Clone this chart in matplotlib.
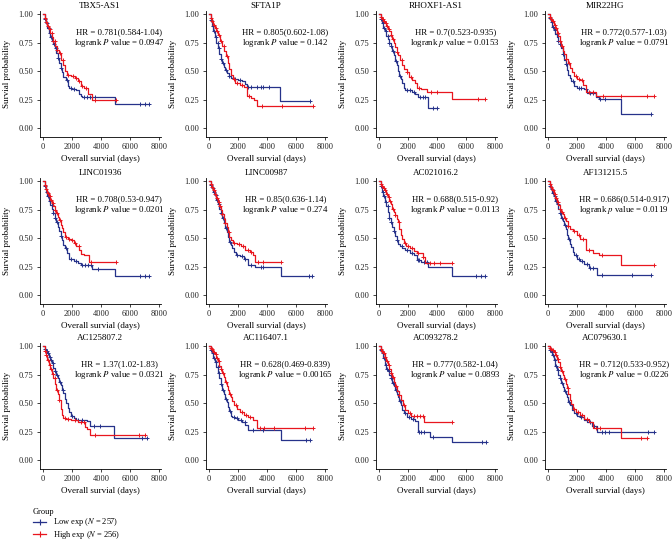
import numpy as np
import matplotlib
matplotlib.use("Agg")
import matplotlib.pyplot as plt
from matplotlib.lines import Line2D
from matplotlib.ticker import FormatStrFormatter

plt.rcParams['font.family'] = 'Liberation Serif'
plt.rcParams['mathtext.fontset'] = 'stix'

genes = ['TBX5-AS1', 'SFTA1P', 'RHOXF1-AS1', 'MIR22HG',
         'LINC01936', 'LINC00987', 'AC021016.2', 'AF131215.5',
         'AC125807.2', 'AC116407.1', 'AC093278.2', 'AC079630.1']
hr_text = ['0.781(0.584-1.04)', '0.805(0.602-1.08)', '0.7(0.523-0.935)', '0.772(0.577-1.03)',
           '0.708(0.53-0.947)', '0.85(0.636-1.14)', '0.688(0.515-0.92)', '0.686(0.514-0.917)',
           '1.37(1.02-1.83)', '0.628(0.469-0.839)', '0.777(0.582-1.04)', '0.712(0.533-0.952)']
p_letter = ['P', 'P', 'p', 'P', 'P', 'P', 'P', 'p', 'P', 'P', 'P', 'P']
p_values = ['0.0947', '0.142', '0.0153', '0.0791', '0.0201', '0.274',
            '0.0113', '0.0119', '0.0321', '0.00165', '0.0893', '0.0226']

# survival curves: (day, survival) steps; censor days (last one = end of follow-up)
tbx5_low = [(0,1.0),(100,0.96),(200,0.92),(300,0.88),(400,0.84),(500,0.80),(600,0.77),(700,0.74),(800,0.70),(900,0.66),(1000,0.62),(1100,0.57),(1200,0.53),(1300,0.49),(1400,0.45),(1550,0.42),(1700,0.37),(1800,0.35),(2000,0.34),(2300,0.33),(2500,0.30),(2600,0.28),(2700,0.27),(4950,0.21)]
tbx5_low_cens = [150,260,380,470,560,650,760,880,1050,1250,1650,1900,2150,2800,3000,3250,3600,6700,7000,7300]
tbx5_high = [(0,1.0),(100,0.97),(200,0.93),(300,0.90),(400,0.87),(500,0.84),(600,0.80),(700,0.77),(850,0.72),(950,0.69),(1100,0.66),(1250,0.60),(1400,0.55),(1500,0.50),(1650,0.47),(1900,0.46),(2200,0.44),(2400,0.41),(2600,0.37),(2800,0.35),(3100,0.30),(3350,0.245)]
tbx5_high_cens = [120,230,340,460,580,700,820,980,1180,1350,1750,2050,2300,2500,2700,2950,3600,5000]

sfta1p_low = [(0,1.0),(100,0.95),(200,0.90),(300,0.85),(400,0.80),(500,0.75),(600,0.70),(700,0.65),(800,0.61),(900,0.57),(1000,0.54),(1100,0.51),(1200,0.48),(1350,0.46),(1500,0.44),(1700,0.43),(2000,0.42),(2300,0.41),(2500,0.39),(2600,0.36),(4900,0.235)]
sfta1p_low_cens = [130,250,360,470,580,690,820,950,1150,1400,1800,2150,2700,2900,3300,3600,3750,4100,6950]
sfta1p_high = [(0,1.0),(100,0.97),(200,0.94),(300,0.91),(400,0.88),(500,0.85),(600,0.82),(750,0.77),(900,0.72),(1050,0.68),(1150,0.63),(1300,0.57),(1400,0.52),(1500,0.47),(1650,0.43),(1800,0.40),(2100,0.38),(2400,0.36),(2600,0.28),(2900,0.26),(3100,0.25),(3300,0.19)]
sfta1p_high_cens = [110,220,330,450,560,680,820,1000,1250,1700,1950,2250,2750,3650,5000,7200]

rhoxf1_low = [(0,1.0),(100,0.96),(200,0.92),(300,0.88),(400,0.85),(500,0.81),(600,0.78),(700,0.75),(800,0.72),(900,0.68),(1000,0.64),(1100,0.59),(1200,0.55),(1300,0.50),(1400,0.46),(1500,0.43),(1600,0.40),(1700,0.35),(1800,0.335),(2300,0.32),(2500,0.30),(2650,0.27),(3400,0.175)]
rhoxf1_low_cens = [140,250,370,480,590,700,830,960,1150,1450,1900,2100,2400,2800,3000,3200,3700,4000]
rhoxf1_high = [(0,1.0),(100,0.98),(200,0.96),(300,0.94),(400,0.92),(500,0.90),(600,0.87),(700,0.85),(800,0.82),(900,0.78),(1000,0.75),(1100,0.71),(1200,0.67),(1300,0.64),(1450,0.60),(1600,0.55),(1750,0.52),(1900,0.49),(2050,0.45),(2300,0.42),(2500,0.40),(2600,0.35),(2900,0.34),(3300,0.32),(5000,0.255)]
rhoxf1_high_cens = [120,240,350,460,570,690,820,980,1250,1550,1950,2200,2750,3600,4000,6800,7300]

mir22hg_low = [(0,1.0),(100,0.97),(200,0.93),(300,0.89),(400,0.86),(500,0.83),(600,0.80),(700,0.77),(800,0.74),(900,0.70),(1000,0.65),(1100,0.60),(1200,0.56),(1300,0.51),(1400,0.47),(1500,0.44),(1600,0.41),(1800,0.37),(2000,0.35),(2500,0.34),(2700,0.31),(3300,0.27),(3500,0.255),(5000,0.12)]
mir22hg_low_cens = [140,250,360,470,580,700,840,1000,1250,1700,2100,2300,2600,2900,3100,3600,3950,7100]
mir22hg_high = [(0,1.0),(100,0.98),(200,0.96),(300,0.94),(400,0.91),(500,0.88),(600,0.84),(700,0.81),(800,0.77),(900,0.72),(1000,0.68),(1100,0.65),(1200,0.61),(1350,0.57),(1500,0.53),(1650,0.49),(1800,0.46),(2000,0.43),(2200,0.42),(2400,0.38),(2600,0.32),(3300,0.28)]
mir22hg_high_cens = [120,230,340,450,570,690,830,990,1200,1450,1900,2150,2350,2800,3100,3800,5000,6800,7300]

linc01936_low = [(0,1.0),(100,0.96),(200,0.91),(300,0.87),(400,0.83),(500,0.79),(600,0.76),(700,0.72),(800,0.68),(900,0.64),(1000,0.60),(1100,0.56),(1200,0.52),(1300,0.48),(1400,0.44),(1500,0.41),(1650,0.37),(1800,0.32),(2100,0.30),(2400,0.28),(2600,0.26),(3400,0.23),(4950,0.17)]
linc01936_low_cens = [150,260,370,480,590,700,830,980,1200,1550,1950,2250,2700,2900,3100,3300,3800,6700,7000,7300]
linc01936_high = [(0,1.0),(100,0.97),(200,0.93),(300,0.90),(400,0.87),(500,0.84),(600,0.81),(700,0.78),(800,0.75),(900,0.72),(1000,0.69),(1100,0.66),(1200,0.62),(1300,0.59),(1400,0.55),(1500,0.51),(1700,0.49),(1900,0.48),(2100,0.46),(2300,0.43),(2500,0.40),(2600,0.36),(2800,0.35),(3150,0.29)]
linc01936_high_cens = [120,230,350,460,570,690,820,970,1150,1600,1800,2000,2200,2450,3300,5000]

linc00987_low = [(0,1.0),(100,0.97),(200,0.94),(300,0.91),(400,0.88),(500,0.84),(600,0.80),(700,0.76),(800,0.72),(900,0.68),(1000,0.63),(1100,0.59),(1200,0.55),(1300,0.51),(1400,0.47),(1500,0.44),(1600,0.41),(1700,0.38),(1850,0.35),(2100,0.34),(2400,0.32),(2650,0.265),(3200,0.25),(4950,0.17)]
linc00987_low_cens = [130,240,350,460,570,680,800,950,1150,1450,1950,2250,2500,2900,3600,3750,6900,7100]
linc00987_high = [(0,1.0),(100,0.98),(200,0.95),(300,0.92),(400,0.89),(500,0.85),(600,0.82),(700,0.78),(800,0.75),(900,0.71),(1000,0.67),(1100,0.63),(1200,0.60),(1300,0.55),(1400,0.51),(1500,0.48),(1650,0.46),(1900,0.45),(2200,0.43),(2500,0.40),(2800,0.38),(3000,0.35),(3150,0.29)]
linc00987_high_cens = [110,220,330,440,550,660,780,920,1100,1350,1750,2050,2350,2650,2900,3400,3700,4950]

ac021016_low = [(0,1.0),(100,0.96),(200,0.91),(300,0.87),(400,0.82),(500,0.78),(600,0.73),(700,0.68),(800,0.64),(900,0.60),(1000,0.56),(1100,0.52),(1200,0.48),(1300,0.45),(1450,0.43),(1600,0.41),(1800,0.40),(2100,0.37),(2400,0.35),(2600,0.31),(2900,0.29),(3400,0.245),(5000,0.17)]
ac021016_low_cens = [140,250,360,470,580,700,830,1000,1250,1550,1950,2250,2650,2750,3100,3300,6700,7000,7300]
ac021016_high = [(0,1.0),(100,0.98),(200,0.96),(300,0.94),(400,0.92),(500,0.89),(600,0.86),(700,0.83),(800,0.80),(900,0.76),(1000,0.73),(1100,0.70),(1200,0.67),(1300,0.64),(1400,0.58),(1500,0.53),(1600,0.49),(1700,0.46),(1850,0.43),(2100,0.41),(2400,0.39),(2600,0.37),(3000,0.33),(3200,0.28)]
ac021016_high_cens = [110,220,330,440,550,660,780,930,1100,1350,1800,2000,2300,2700,3000,3500,3800,4200,5000]

af131215_low = [(0,1.0),(100,0.96),(200,0.93),(300,0.90),(400,0.87),(500,0.83),(600,0.80),(700,0.76),(800,0.72),(900,0.68),(1000,0.65),(1100,0.62),(1200,0.58),(1300,0.53),(1400,0.49),(1500,0.45),(1600,0.42),(1700,0.38),(1800,0.35),(2000,0.32),(2200,0.30),(2500,0.27),(2800,0.24),(3400,0.175)]
af131215_low_cens = [130,240,350,460,570,680,800,950,1150,1450,1900,2100,2350,2650,2900,3100,3700,5800,7100]
af131215_high = [(0,1.0),(100,0.98),(200,0.95),(300,0.92),(400,0.89),(500,0.85),(600,0.82),(700,0.79),(800,0.76),(900,0.73),(1000,0.71),(1100,0.68),(1200,0.65),(1350,0.61),(1500,0.58),(1700,0.56),(2000,0.53),(2200,0.49),(2600,0.40),(3100,0.37),(3500,0.355),(5000,0.265)]
af131215_high_cens = [120,230,340,450,560,680,810,960,1150,1400,1800,2100,2400,2800,3700,7300]

ac125807_low = [(0,1.0),(100,0.98),(200,0.96),(300,0.94),(400,0.91),(500,0.88),(600,0.85),(700,0.81),(800,0.78),(900,0.75),(1000,0.72),(1100,0.69),(1200,0.66),(1300,0.62),(1400,0.59),(1500,0.54),(1600,0.50),(1700,0.46),(1800,0.42),(1900,0.39),(2100,0.37),(2300,0.355),(3000,0.34),(3250,0.30),(4900,0.195)]
ac125807_low_cens = [130,240,350,460,570,680,800,950,1150,1350,2000,2400,2700,3500,3900,6800,7200]
ac125807_high = [(0,1.0),(100,0.96),(200,0.92),(300,0.88),(400,0.84),(500,0.80),(600,0.76),(700,0.72),(800,0.67),(900,0.62),(1000,0.58),(1100,0.53),(1200,0.45),(1300,0.40),(1400,0.37),(1600,0.36),(1900,0.355),(2400,0.33),(2900,0.29),(3000,0.27),(3250,0.22)]
ac125807_high_cens = [120,230,340,450,560,670,790,940,1130,1500,1750,2200,2600,2800,3600,6600,7000]

ac116407_low = [(0,1.0),(100,0.97),(200,0.94),(300,0.90),(400,0.86),(500,0.82),(600,0.77),(700,0.72),(800,0.67),(900,0.62),(1000,0.58),(1100,0.54),(1200,0.51),(1300,0.47),(1400,0.43),(1500,0.39),(1600,0.38),(1800,0.37),(2000,0.35),(2300,0.33),(2500,0.31),(2650,0.265),(4950,0.175)]
ac116407_low_cens = [140,250,360,470,580,690,820,970,1150,1450,1700,1950,2200,2450,3000,3700,6700,6950]
ac116407_high = [(0,1.0),(100,0.99),(200,0.98),(300,0.95),(400,0.93),(500,0.90),(600,0.87),(700,0.83),(800,0.80),(900,0.77),(1000,0.73),(1100,0.69),(1200,0.65),(1300,0.62),(1400,0.58),(1500,0.55),(1600,0.52),(1750,0.48),(1900,0.45),(2100,0.42),(2400,0.40),(2700,0.38),(3000,0.35),(3300,0.285)]
ac116407_high_cens = [120,230,340,450,560,680,810,960,1150,1450,1850,2250,2550,2850,3500,3800,4500,6600,7200]

ac093278_low = [(0,1.0),(100,0.97),(200,0.94),(300,0.90),(400,0.84),(500,0.80),(600,0.78),(700,0.75),(800,0.72),(900,0.68),(1000,0.65),(1100,0.62),(1200,0.58),(1300,0.55),(1400,0.52),(1500,0.48),(1600,0.44),(1700,0.41),(1900,0.38),(2200,0.36),(2500,0.34),(2650,0.25),(3500,0.205),(5000,0.155)]
ac093278_low_cens = [130,240,350,460,570,680,810,960,1150,1450,1800,2050,2350,2750,2900,3100,3700,7100,7400]
ac093278_high = [(0,1.0),(100,0.98),(200,0.96),(300,0.94),(400,0.91),(500,0.87),(600,0.84),(700,0.80),(800,0.77),(900,0.73),(1000,0.69),(1100,0.65),(1200,0.61),(1350,0.57),(1500,0.53),(1650,0.48),(1800,0.44),(2000,0.41),(2200,0.39),(3100,0.335)]
ac093278_high_cens = [110,220,330,440,550,670,800,950,1150,1400,1750,2100,2400,2600,2800,3000,5000]

ac079630_low = [(0,1.0),(100,0.97),(200,0.95),(300,0.92),(400,0.88),(500,0.83),(600,0.79),(700,0.75),(800,0.72),(900,0.68),(1000,0.64),(1100,0.61),(1200,0.58),(1300,0.55),(1400,0.51),(1500,0.48),(1650,0.44),(1800,0.41),(2000,0.39),(2200,0.38),(2500,0.35),(2700,0.33),(3000,0.30),(3400,0.25),(3600,0.245)]
ac079630_low_cens = [130,240,350,460,570,680,810,960,1150,1450,1950,2300,2650,2900,3200,3700,3900,4200,6900,7300]
ac079630_high = [(0,1.0),(100,0.99),(200,0.98),(300,0.97),(400,0.95),(500,0.92),(600,0.89),(700,0.86),(800,0.82),(900,0.78),(1000,0.75),(1100,0.71),(1200,0.67),(1300,0.63),(1400,0.58),(1500,0.53),(1600,0.49),(1700,0.45),(1900,0.42),(2200,0.40),(2500,0.36),(2800,0.33),(3100,0.28),(5000,0.195)]
ac079630_high_cens = [120,230,340,450,560,680,810,960,1150,1350,1800,2050,2350,2650,3300,3600,6400,6800]

low_curves = [tbx5_low, sfta1p_low, rhoxf1_low, mir22hg_low, linc01936_low, linc00987_low,
              ac021016_low, af131215_low, ac125807_low, ac116407_low, ac093278_low, ac079630_low]
low_cens = [tbx5_low_cens, sfta1p_low_cens, rhoxf1_low_cens, mir22hg_low_cens, linc01936_low_cens,
            linc00987_low_cens, ac021016_low_cens, af131215_low_cens, ac125807_low_cens,
            ac116407_low_cens, ac093278_low_cens, ac079630_low_cens]
high_curves = [tbx5_high, sfta1p_high, rhoxf1_high, mir22hg_high, linc01936_high, linc00987_high,
               ac021016_high, af131215_high, ac125807_high, ac116407_high, ac093278_high, ac079630_high]
high_cens = [tbx5_high_cens, sfta1p_high_cens, rhoxf1_high_cens, mir22hg_high_cens, linc01936_high_cens,
             linc00987_high_cens, ac021016_high_cens, af131215_high_cens, ac125807_high_cens,
             ac116407_high_cens, ac093278_high_cens, ac079630_high_cens]

blue = '#26328a'
red = '#e8161e'


def km(ax, steps, cens, color):
    days = np.array([s[0] for s in steps] + [cens[-1]], dtype=float)
    surv = np.array([s[1] for s in steps] + [steps[-1][1]])
    ax.step(days, surv, where='post', color=color, lw=0.9)
    c = np.array(cens, dtype=float)
    cy = surv[np.searchsorted(days[:-1], c, side='right') - 1]
    ax.plot(c, cy, ls='none', marker='+', ms=3.2, mew=0.7, color=color)


W, H = 672, 541
fig = plt.figure(figsize=(W / 100, H / 100), dpi=100)

lefts = [39.5, 205.5, 375.5, 544.5]
bottoms = [137, 304, 469]
aw, ah = 121, 126

for i in range(12):
    r, c = divmod(i, 4)
    ax = fig.add_axes([lefts[c] / W, 1 - bottoms[r] / H, aw / W, ah / H])
    km(ax, low_curves[i], low_cens[i], blue)
    km(ax, high_curves[i], high_cens[i], red)
    ax.set_xlim(-250, 8100)
    ax.set_ylim(-0.08, 1.03)
    ax.set_xticks([0, 2000, 4000, 6000, 8000])
    ax.set_yticks([0, 0.25, 0.5, 0.75, 1.0])
    ax.yaxis.set_major_formatter(FormatStrFormatter('%.2f'))
    for s in ['top', 'right']:
        ax.spines[s].set_visible(False)
    for s in ['left', 'bottom']:
        ax.spines[s].set_linewidth(0.6)
    ax.tick_params(direction='out', length=2.5, width=0.6, labelsize=6, pad=2, colors='#222222')
    ax.set_title(genes[i], fontsize=6.5, pad=2)
    ax.set_xlabel('Overall survial (days)', fontsize=6.5, labelpad=3)
    ax.set_ylabel('Survial probability', fontsize=6.5, labelpad=5)
    ax.text(5250, 0.84, 'HR = ' + hr_text[i], fontsize=6.3, ha='center', va='center')
    ax.text(5250, 0.745, 'logrank $' + p_letter[i] + '$ value = ' + p_values[i],
            fontsize=6.3, ha='center', va='center')

handles = [Line2D([], [], color=blue, lw=0.9, marker='+', ms=4, mew=0.8),
           Line2D([], [], color=red, lw=0.9, marker='+', ms=4, mew=0.8)]
leg = fig.legend(handles, ['Low exp ($N$ = 257)', 'High exp ($N$ = 256)'],
                 title='Group', loc='upper left', bbox_to_anchor=(33 / W, 1 - 508 / H),
                 borderaxespad=0, borderpad=0, frameon=False, fontsize=6, title_fontsize=6,
                 handlelength=1.6, handletextpad=0.8, labelspacing=0.05, alignment='left')

fig.savefig('out.png', dpi=100)
